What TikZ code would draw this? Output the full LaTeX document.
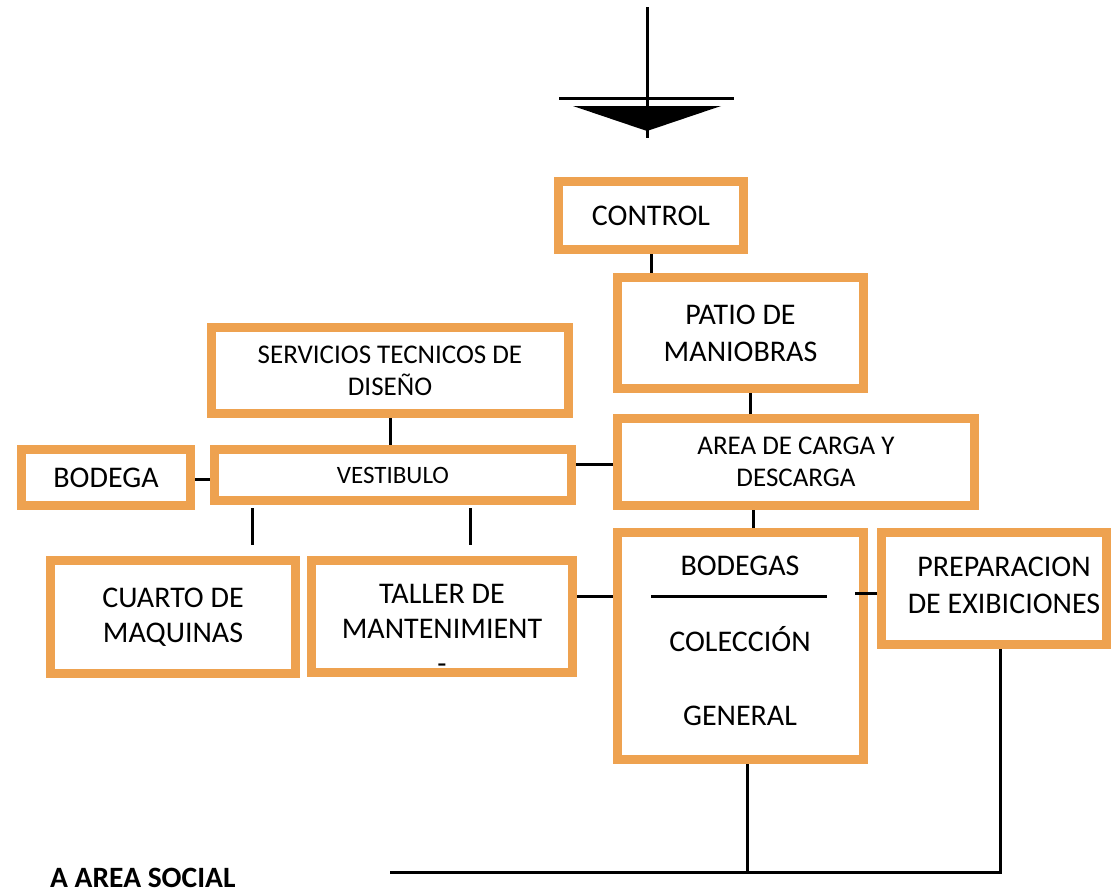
\documentclass[tikz,border=0pt]{standalone}
\usepackage{fontspec}
\setmainfont{Carlito}
\definecolor{boxorange}{RGB}{238,162,80}
\begin{document}
\begin{tikzpicture}[x=1pt,y=-1pt,
  obox/.style={draw=boxorange, line width=9pt, fill=white, inner sep=0pt, align=center,
    font=\fontsize{30}{37}\selectfont},
  smalltext/.style={font=\fontsize{27}{32}\selectfont},
  conn/.style={line width=3pt, black},
  lbl/.style={inner sep=0pt, align=center, font=\fontsize{30}{37}\selectfont}]

\fill[white] (0,0) rectangle (1112,894);
\useasboundingbox (0,0) rectangle (1112,894);

% entry arrow
\coordinate (arrTop) at (647,7);
\coordinate (arrBot) at (647,138);
\coordinate (barL) at (559,98);
\coordinate (barR) at (734,98);
\fill (573,106) -- (721,106) -- (647,131) -- cycle;
\draw[conn] (arrTop) -- (arrBot);
\draw[conn] (barL) -- (barR);

% boxes
\node[obox, minimum width=185pt, minimum height=68pt] (control) at (651,215.5) {CONTROL};
\node[obox, minimum width=246pt, minimum height=111pt] (patio) at (740.5,333) {PATIO DE\\MANIOBRAS};
\node[obox, smalltext, minimum width=357pt, minimum height=86pt] (serv) at (390,370.5) {SERVICIOS TECNICOS DE\\DISEÑO};
\node[obox, minimum width=169pt, minimum height=56pt] (bodega) at (106,477.5) {BODEGA};
\node[obox, font=\fontsize{25}{30}\selectfont, minimum width=357pt, minimum height=51pt] (vest) at (393,475) {VESTIBULO};
\node[obox, smalltext, minimum width=357pt, minimum height=87pt] (area) at (796,462) {AREA DE CARGA Y\\DESCARGA};
\node[obox, font=\fontsize{30}{35}\selectfont, minimum width=245pt, minimum height=113pt] (cuarto) at (173,617) {CUARTO DE\\MAQUINAS};
\node[obox, minimum width=261pt, minimum height=112pt] (taller) at (442,616.5) {};
\node[obox, minimum width=246pt, minimum height=227pt] (bodegas) at (740.5,646) {};
\node[obox, minimum width=225pt, minimum height=112pt] (prep) at (994,588.5) {};

% texts placed inside boxes
\node[lbl, font=\fontsize{30}{35}\selectfont] (tallertxt) at (442,629) {TALLER DE\\MANTENIMIENT\\-};
\node[lbl, anchor=base] (bodtxt) at (740,575) {BODEGAS};
\node[lbl, anchor=base] (coltxt) at (740,651) {COLECCIÓN};
\node[lbl, anchor=base] (gentxt) at (740,725) {GENERAL};
\node[lbl] (preptxt) at (1004,585.5) {PREPARACION\\DE EXIBICIONES};
\coordinate (sepL) at (651,596);
\coordinate (sepR) at (827,596);
\draw[conn] (sepL) -- (sepR);

% connectors
\draw[conn] (control.south) -- (control.south |- patio.north);
\draw[conn] ([xshift=9.5pt]patio.south) -- ([xshift=9.5pt]patio.south |- area.north);
\draw[conn] (serv.south) -- (serv.south |- vest.north);
\draw[conn] ([yshift=-1.5pt]bodega.east) -- ([yshift=-1.5pt]bodega.east -| vest.west);
\draw[conn] ([yshift=11pt]vest.east) -- ([yshift=11pt]vest.east -| area.west);
\draw[conn] ([xshift=12.5pt]bodegas.north) -- ([xshift=12.5pt]bodegas.north |- area.south);
\draw[conn] ([yshift=20.5pt]taller.east) -- ([yshift=20.5pt]taller.east -| bodegas.west);
\draw[conn, shorten >=-13pt] ([yshift=-4.5pt]prep.west) -- ([yshift=-4.5pt]prep.west -| bodegas.east);

\coordinate (tickAa) at (252,508);
\coordinate (tickAb) at (252,545);
\coordinate (tickBa) at (470,508);
\coordinate (tickBb) at (470,545);
\draw[conn] (tickAa) -- (tickAb);
\draw[conn] (tickBa) -- (tickBb);

\coordinate (hl) at (390,872);
\draw[conn] ([xshift=6.5pt]bodegas.south) -- ([xshift=6.5pt]bodegas.south |- hl);
\draw[conn] ([xshift=6pt]prep.south) |- (hl);

\node[anchor=base west, inner sep=0pt, font=\bfseries\fontsize{29.5}{34}\selectfont] (social) at (50,887) {A AREA SOCIAL};
\end{tikzpicture}
\end{document}
